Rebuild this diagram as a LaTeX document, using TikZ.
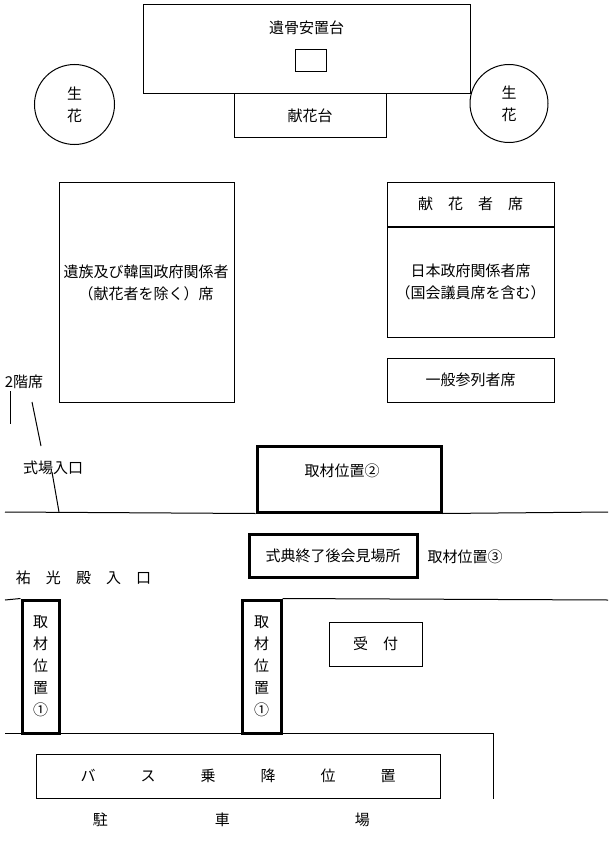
\documentclass[tikz,border=0pt]{standalone}
\usepackage{fontspec}
\setmainfont{Noto Sans CJK JP}
\usetikzlibrary{positioning}

\tikzset{
  box/.style={draw, line width=0.75pt, inner sep=0pt, align=center},
  thickbox/.style={draw, line width=2.25pt, inner sep=0pt, align=center},
  lbl/.style={inner sep=0pt, align=center},
  wall/.style={line width=0.75pt},
  dims/.style 2 args={minimum width=#1*0.75pt, minimum height=#2*0.75pt},
}

\begin{document}
\begin{tikzpicture}[x=0.75pt, y=-0.75pt]
  \fontsize{11.25pt}{16.5pt}\selectfont
  \useasboundingbox (0,0) rectangle (614,863);

  % altar
  \node[box, dims={327}{89}] (ossuary) at (306.5,49.5) {};
  \node[lbl] (ossuarytext) at (306.5,28) {遺骨安置台};
  \node[box, dims={31}{22}] (urn) at (310.5,61) {};
  \node[box, dims={152}{44}] (flowertable) at (310,116) {献花台};
  \node[box, circle, minimum size=80*0.75pt] (flowerL) at (74.5,104.5) {生\\花};
  \node[box, circle, minimum size=78*0.75pt] (flowerR) at (509,103.5) {生\\花};

  % seats
  \node[box, dims={175}{220}] (familyseats) at (146.5,292) {};
  \node[lbl] (familytext) at (146,283) {遺族及び韓国政府関係者\\（献花者を除く）席};
  \node[box, dims={167}{44}] (offerseats) at (470.5,204) {献　花　者　席};
  \node[box, dims={167}{110}, anchor=north] (japanseats) at (offerseats.south)
    {日本政府関係者席\\（国会議員席を含む）};
  \node[box, dims={167}{44}] (publicseats) at (470.5,380) {一般参列者席};

  % entrance
  \node[lbl] (upperfloor) at (24,382) {2階席};
  \coordinate (ufA) at (10,391);
  \coordinate (ufB) at (10,424);
  \coordinate (ufC) at (32,402);
  \coordinate (ufD) at (41,446);
  \draw[wall] (ufA) -- (ufB);
  \draw[wall] (ufC) -- (ufD);
  \node[lbl] (hallentrance) at (53,468) {式場入口};
  \coordinate (heA) at (52,472);
  \coordinate (heB) at (59,512);
  \draw[wall] (heA) -- (heB);

  \node[thickbox, dims={184}{66}] (press2) at (349,479) {};
  \node[lbl] (press2text) at (342,471) {取材位置②};
  \coordinate (wallAL) at (5,512);
  \coordinate (wallAR) at (608,512);
  \draw[wall] (wallAL) -- (press2.south west);
  \draw[wall] (press2.south east) -- (wallAR);

  \node[thickbox, dims={168}{43}] (pressroom) at (333,555.5) {式典終了後会見場所};
  \node[lbl] (press3) at (465,557) {取材位置③};
  \node[lbl] (yukoden) at (83.5,578) {祐　光　殿　入　口};

  % front
  \node[thickbox, dims={37}{133}] (press1L) at (40.5,666.5) {取\\材\\位\\置\\①};
  \node[thickbox, dims={39}{133}] (press1R) at (261.5,666.5) {取\\材\\位\\置\\①};
  \coordinate (wallBL) at (5,600);
  \coordinate (wallBR) at (608,600);
  \draw[wall] (wallBL) -- (press1L.north west);
  \draw[wall] (press1R.north east) -- (wallBR);
  \node[box, dims={93}{44}] (reception) at (375.5,644) {受　付};

  \coordinate (wallCL) at (5,733);
  \coordinate (wallCR) at (493,733);
  \coordinate (wallCD) at (493,799);
  \draw[wall] (wallCL) -- (wallCR) -- (wallCD);

  % parking
  \node[box, dims={404}{44}] (busstop) at (238,776) {バ　　　ス　　　乗　　　降　　　位　　　置};
  \node[lbl, anchor=west] (parking) at (92.5,820) {駐\hspace{80.25pt}車\hspace{93.75pt}場};
\end{tikzpicture}
\end{document}
